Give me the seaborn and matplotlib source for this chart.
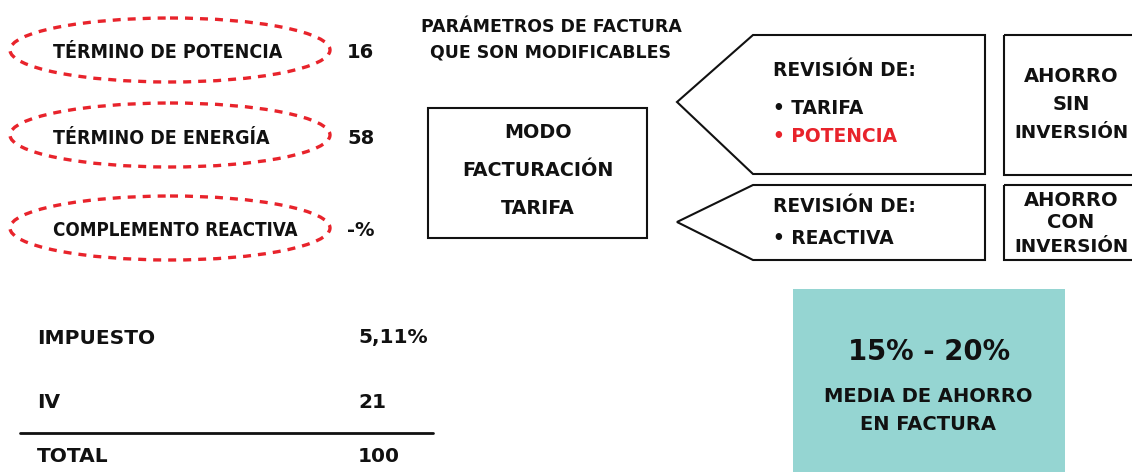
import matplotlib
matplotlib.use("Agg")
import matplotlib.pyplot as plt
from matplotlib.patches import Ellipse, Rectangle, Polygon
from matplotlib import font_manager as fm
import seaborn as sns

# ---- data ----
param_labels = ["TÉRMINO DE POTENCIA", "TÉRMINO DE ENERGÍA", "COMPLEMENTO REACTIVA"]
param_values = ["16", "58", "-%"]
title_lines = ["PARÁMETROS DE FACTURA", "QUE SON MODIFICABLES"]
modo_lines = ["MODO", "FACTURACIÓN", "TARIFA"]
rev1_items = ["• TARIFA", "• POTENCIA"]
rev2_items = ["• REACTIVA"]
ahorro1 = ["AHORRO", "SIN", "INVERSIÓN"]
ahorro2 = ["AHORRO", "CON", "INVERSIÓN"]
tax_labels = ["IMPUESTO", "IV", "TOTAL"]
tax_values = ["5,11%", "21", "100"]
saving_range = "15% - 20%"
saving_lines = ["MEDIA DE AHORRO", "EN FACTURA"]

sns.set_theme(style="white")
plt.rcParams['font.family'] = ['DejaVu Sans']

# condensed font for the ellipse labels, if available
names = {f.name for f in fm.fontManager.ttflist}
cond_family = None
for cand in ["Liberation Sans Narrow", "DejaVu Sans Condensed"]:
    if cand in names:
        cond_family = cand
        break
cond_stretch = any(f.name == "DejaVu Sans" and str(f.stretch) in ("condensed", "semi-condensed")
                   for f in fm.fontManager.ttflist)

W, H = 1132, 472
fig = plt.figure(figsize=(W / 100, H / 100), dpi=100)
ax = fig.add_axes([0, 0, 1, 1])
ax.set_xlim(0, W)
ax.set_ylim(H, 0)
ax.axis("off")

RED = "#e8232b"
BLK = "#111111"
TEAL = "#95d5d2"

def txt(x, y, s, size, ha="center", color=BLK, family=None, stretch="normal"):
    kw = {}
    if family:
        kw["family"] = family
    ax.text(x, y, s, fontsize=size, fontweight="bold", ha=ha, va="center",
            color=color, fontstretch=stretch, **kw)

# ellipses with labels
ell_y = [50, 135, 228]
for lab, val, y in zip(param_labels, param_values, ell_y):
    ax.add_patch(Ellipse((170, y), 320, 64, fill=False, edgecolor=RED,
                         linewidth=2.4, linestyle=(0, (2.4, 2.1))))
    if cond_family == "Liberation Sans Narrow":
        size = 14.8 if len(lab) < 20 else 14.3
        txt(53, y + 3, lab, size, ha="left", family=cond_family)
    elif cond_family or cond_stretch:
        size = 14.0 if len(lab) < 20 else 13.5
        txt(53, y + 3, lab, size, ha="left", family=cond_family, stretch="condensed")
    else:
        size = 12.2 if len(lab) < 20 else 11.9
        txt(53, y + 3, lab, size, ha="left")
    txt(347, y + 3, val, 14, ha="left")

# title
txt(551, 27, title_lines[0], 12.5)
txt(551, 53, title_lines[1], 12.5)

# modo box
ax.add_patch(Rectangle((428, 108), 219, 130, fill=False, edgecolor=BLK, linewidth=1.5))
for s, y in zip(modo_lines, [132, 170, 208]):
    txt(538, y, s, 13.8)

# arrow shapes
ax.add_patch(Polygon([(677, 102), (753, 35), (985, 35), (985, 174), (753, 174)],
                     closed=True, fill=False, edgecolor=BLK, linewidth=1.5))
ax.add_patch(Polygon([(677, 222), (753, 185), (985, 185), (985, 260), (753, 260)],
                     closed=True, fill=False, edgecolor=BLK, linewidth=1.5))
txt(773, 71, "REVISIÓN DE:", 13.4, ha="left")
txt(773, 108, rev1_items[0], 13.4, ha="left")
txt(773, 136, rev1_items[1], 13.4, ha="left", color=RED)
txt(773, 207, "REVISIÓN DE:", 13.4, ha="left")
txt(773, 238, rev2_items[0], 13.4, ha="left")

# ahorro boxes
ax.add_patch(Rectangle((1004, 35), 200, 140, fill=False, edgecolor=BLK, linewidth=1.5, clip_on=False))
ax.add_patch(Rectangle((1004, 185), 200, 75, fill=False, edgecolor=BLK, linewidth=1.5, clip_on=False))
for s, y in zip(ahorro1, [77, 105, 133]):
    txt(1071, y, s, 14 if len(s) < 9 else 13.2)
for s, y in zip(ahorro2, [200, 223, 247]):
    txt(1071, y, s, 14 if len(s) < 9 else 13.2)

# tax table
tax_y = [338, 402, 456]
for lab, val, y in zip(tax_labels, tax_values, tax_y):
    txt(37, y, lab, 14.5, ha="left")
    txt(358, y, val, 14.5, ha="left")
ax.plot([20, 433], [433, 433], color=BLK, linewidth=2)

# teal box
ax.add_patch(Rectangle((793, 289), 272, 200, facecolor=TEAL, edgecolor="none", clip_on=False))
txt(929, 352, saving_range, 19.8)
txt(928, 397, saving_lines[0], 14)
txt(928, 424, saving_lines[1], 14)

fig.savefig("out.png", dpi=100)
